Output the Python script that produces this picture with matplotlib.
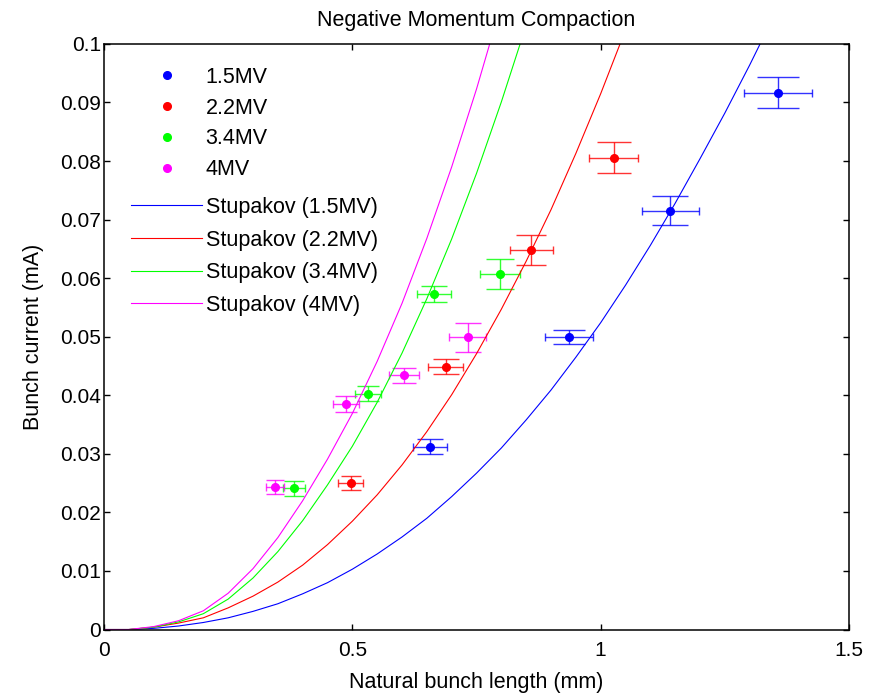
import matplotlib
matplotlib.use("Agg")
import matplotlib.pyplot as plt

plt.rcParams["font.family"] = ["Liberation Sans", "DejaVu Sans"]

# measured points (bunch length in mm, current in mA)
blue_x = [0.656, 0.936, 1.140, 1.357]
blue_y = [0.0312, 0.0499, 0.0715, 0.0917]
blue_xerr = [0.034, 0.048, 0.057, 0.068]
blue_yerr = [0.0013, 0.0012, 0.0025, 0.0026]

red_x = [0.497, 0.688, 0.860, 1.026]
red_y = [0.0251, 0.0449, 0.0648, 0.0806]
red_xerr = [0.025, 0.035, 0.043, 0.050]
red_yerr = [0.0012, 0.0013, 0.0025, 0.0026]

green_x = [0.383, 0.532, 0.665, 0.797]
green_y = [0.0241, 0.0403, 0.0573, 0.0607]
green_xerr = [0.022, 0.026, 0.034, 0.040]
green_yerr = [0.0013, 0.0013, 0.0013, 0.0025]

mag_x = [0.344, 0.487, 0.604, 0.732]
mag_y = [0.0244, 0.0385, 0.0434, 0.0499]
mag_xerr = [0.018, 0.026, 0.030, 0.037]
mag_yerr = [0.0012, 0.0013, 0.0013, 0.0025]

# Stupakov curves
curve_x = [0.0, 0.05, 0.1, 0.15, 0.2, 0.25, 0.3, 0.35, 0.4, 0.45, 0.5, 0.55,
           0.6, 0.65, 0.7, 0.75, 0.8, 0.85, 0.9, 0.95, 1.0, 1.05, 1.1, 1.15,
           1.2, 1.25, 1.3, 1.35]
stup_blue = [0.0, 0.0, 0.0002, 0.0006, 0.0012, 0.0020, 0.0031, 0.0044, 0.0061,
             0.0080, 0.0103, 0.0129, 0.0158, 0.0190, 0.0227, 0.0267, 0.0310,
             0.0358, 0.0409, 0.0465, 0.0524, 0.0588, 0.0656, 0.0728, 0.0804,
             0.0882, 0.0964, 0.1050]
stup_red = [0.0, 0.0, 0.0004, 0.0011, 0.0020, 0.0037, 0.0057, 0.0081, 0.0110,
            0.0145, 0.0185, 0.0230, 0.0281, 0.0338, 0.0401, 0.0471, 0.0547,
            0.0629, 0.0717, 0.0813, 0.0915, 0.1024]
stup_green = [0.0, 0.0, 0.0004, 0.0013, 0.0027, 0.0052, 0.0088, 0.0133, 0.0186,
              0.0247, 0.0313, 0.0388, 0.0472, 0.0565, 0.0667, 0.0779, 0.0901,
              0.1032]
stup_mag = [0.0, 0.0, 0.0005, 0.0015, 0.0032, 0.0062, 0.0104, 0.0157, 0.0220,
            0.0291, 0.0369, 0.0458, 0.0557, 0.0668, 0.0790, 0.0923, 0.1068]

series = [
    ("1.5MV", "#0000ff", blue_x, blue_y, blue_xerr, blue_yerr),
    ("2.2MV", "#ff0000", red_x, red_y, red_xerr, red_yerr),
    ("3.4MV", "#00ff00", green_x, green_y, green_xerr, green_yerr),
    ("4MV", "#ff00ff", mag_x, mag_y, mag_xerr, mag_yerr),
]
curves = [
    ("Stupakov (1.5MV)", "#0000ff", stup_blue),
    ("Stupakov (2.2MV)", "#ff0000", stup_red),
    ("Stupakov (3.4MV)", "#00ff00", stup_green),
    ("Stupakov (4MV)", "#ff00ff", stup_mag),
]

fig = plt.figure(figsize=(8.77, 6.93), dpi=100)
ax = fig.add_axes([0.1186, 0.0916, 0.8495, 0.845])

point_handles = []
for label, color, xs, ys, xe, ye in series:
    for x, y, dx, dy in zip(xs, ys, xe, ye):
        # vertical bars: cap width grows with the horizontal error like in MATLAB
        ax.errorbar(x, y, yerr=dy, fmt="none", ecolor=color, elinewidth=1.0,
                    capsize=3 + 180 * dx, capthick=1.0, alpha=0.8)
        ax.errorbar(x, y, xerr=dx, fmt="none", ecolor=color, elinewidth=1.0,
                    capsize=3.0, capthick=1.0, alpha=0.8)
    h, = ax.plot(xs, ys, "o", color=color, markersize=5.5, label=label, zorder=4)
    point_handles.append(h)

line_handles = []
for label, color, ys in curves:
    h, = ax.plot(curve_x[:len(ys)], ys, "-", color=color, linewidth=0.8,
                 label=label)
    line_handles.append(h)

ax.set_xlim(0, 1.5)
ax.set_ylim(0, 0.1)
ax.set_xticks([0, 0.5, 1, 1.5])
ax.set_xticklabels(["0", "0.5", "1", "1.5"])
ax.set_yticks([i / 100 for i in range(11)])
ax.set_yticklabels(["0"] + ["%.2f" % (i / 100) for i in range(1, 10)] + ["0.1"])
ax.tick_params(direction="in", top=True, right=True, length=4, width=1,
               labelsize=15)
ax.tick_params(axis="x", pad=8)
ax.tick_params(axis="y", pad=2)
for s in ax.spines.values():
    s.set_linewidth(1.1)

ax.set_xlabel("Natural bunch length (mm)", fontsize=15.5, labelpad=9)
ax.set_ylabel("Bunch current (mA)", fontsize=15.5, labelpad=12)
ax.set_title("Negative Momentum Compaction", fontsize=15.5, pad=13)

leg_kw = dict(loc="upper left", bbox_transform=fig.transFigure, frameon=False,
              fontsize=15.5, handlelength=3.3, handletextpad=0.17,
              borderpad=0, borderaxespad=0, numpoints=1)
leg1 = ax.legend(handles=point_handles, bbox_to_anchor=(131 / 877, 1 - 67 / 693),
                 labelspacing=0.45, **leg_kw)
ax.add_artist(leg1)
ax.legend(handles=line_handles, bbox_to_anchor=(131 / 877, 1 - 197 / 693),
          labelspacing=0.535, **leg_kw)

fig.savefig("out.png", dpi=100)
plt.close(fig)
